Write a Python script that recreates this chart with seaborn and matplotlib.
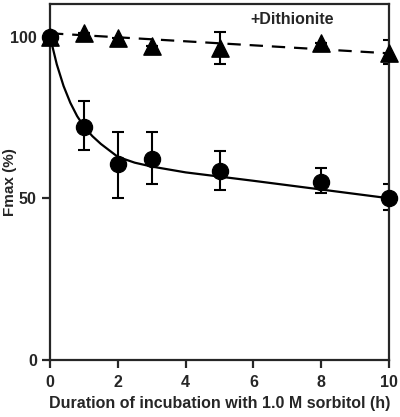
import numpy as np
import pandas as pd
import seaborn as sns
import matplotlib.pyplot as plt

# measured points (control, circles)
hours = [0, 1, 2, 3, 5, 8, 10]
fmax_ctrl = [100, 72, 60.5, 62, 58.5, 55, 50]
ctrl_hi = [100, 80, 70.5, 70.5, 64.5, 59.5, 54.5]
ctrl_lo = [100, 65, 50, 54.5, 52.5, 51.5, 46.5]

# +dithionite (triangles)
fmax_dith = [100, 101, 99.5, 97, 96.5, 98, 95]
dith_hi = [100, 101, 99.5, 97, 101.5, 98, 99]
dith_lo = [100, 101, 99.5, 97, 91.5, 98, 91.5]

# fitted curve
fit_t = [0, 0.2, 0.4, 0.6, 0.8, 1, 1.25, 1.5, 2, 2.5, 3, 4, 5, 6, 8, 10]
fit_ctrl = [100, 91.4, 84.7, 79.5, 75.4, 72.2, 69.2, 66.8, 62.8, 61.0, 59.8, 58.0, 56.7, 55.4, 52.7, 50]
dash_t = [0, 10]
dash_y = [101, 94.8]

sns.set_style("ticks")
plt.rcParams['font.family'] = ['Liberation Sans', 'DejaVu Sans']
plt.rcParams['font.weight'] = 'bold'

fig = plt.figure(figsize=(4.0, 4.17), dpi=100)
ax = fig.add_axes([0.125, 0.1367, 0.8475, 0.8533])

df_ctrl = pd.DataFrame({'t': hours, 'f': fmax_ctrl})
df_dith = pd.DataFrame({'t': hours, 'f': fmax_dith})

sns.lineplot(x=fit_t, y=fit_ctrl, ax=ax, color='black', lw=1.6)
sns.lineplot(x=dash_t, y=dash_y, ax=ax, color='black', lw=1.6, dashes=False,
             linestyle=(0, (6, 4)))

err_c = [np.array(fmax_ctrl) - np.array(ctrl_lo), np.array(ctrl_hi) - np.array(fmax_ctrl)]
err_d = [np.array(fmax_dith) - np.array(dith_lo), np.array(dith_hi) - np.array(fmax_dith)]
ax.errorbar(hours, fmax_dith, yerr=err_d, fmt='none', ecolor='black', elinewidth=1.5,
            capsize=4, capthick=1.5)
ax.errorbar(hours, fmax_ctrl, yerr=err_c, fmt='none', ecolor='black', elinewidth=1.5,
            capsize=4, capthick=1.5)

sns.scatterplot(data=df_dith, x='t', y='f', ax=ax, marker='^', s=155, color='black',
                edgecolor='black', zorder=5, clip_on=False)
sns.scatterplot(data=df_ctrl, x='t', y='f', ax=ax, marker='o', s=135, color='black',
                edgecolor='black', zorder=6, clip_on=False)

ax.text(7.15, 105.2, '+Dithionite', ha='center', va='center', fontsize=11.5, fontweight='bold')

ax.set_xlim(0, 10)
ax.set_ylim(0, 110)
ax.set_xticks([0, 2, 4, 6, 8, 10])
ax.set_yticks([0, 50, 100])
ax.tick_params(axis='both', direction='out', length=6, width=1.6, labelsize=11.5)
ax.tick_params(axis='x', pad=5)
for s in ax.spines.values():
    s.set_linewidth(1.6)
    s.set_visible(True)

ax.set_xlabel('Duration of incubation with 1.0 M sorbitol (h)', fontsize=11.5, fontweight='bold', labelpad=4)
ax.set_ylabel('Fmax (%)', fontsize=11, fontweight='bold')
ax.yaxis.set_label_coords(-0.097, 0.5)

fig.savefig('out.png', dpi=100)
